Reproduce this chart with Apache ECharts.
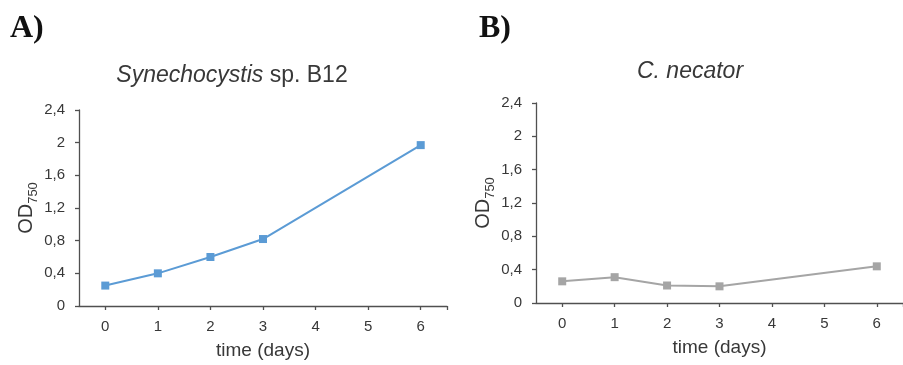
<!DOCTYPE html>
<html>
<head>
<meta charset="utf-8">
<script src="https://cdn.jsdelivr.net/npm/echarts@6/dist/echarts.min.js"></script>
<style>
  html, body { margin: 0; padding: 0; background: #fff; }
  #chart { width: 903px; height: 365px; }
</style>
</head>
<body>
<div id="chart"></div>
<script>
// Sampling days (x) and measured optical density at 750 nm
const days = [0, 1, 2, 3, 6];
const synechocystisOD = [0.25, 0.40, 0.60, 0.82, 1.97];
const necatorOD = [0.26, 0.31, 0.21, 0.20, 0.44];

// Axis ticks
const dayTicks = [0, 1, 2, 3, 4, 5, 6];
const odTickLabels = ['0', '0,4', '0,8', '1,2', '1,6', '2', '2,4'];

const FONT = '"Liberation Sans", Arial, sans-serif';
const TEXT = '#383838';
const AXIS = '#505050';

const pairs = (xs, ys) => xs.map((x, i) => [x, ys[i]]);

function xAxisFor(gridIndex) {
  return {
    type: 'value', gridIndex,
    min: -0.5, max: 6.5,
    name: 'time (days)', nameLocation: 'middle', nameGap: 35,
    nameTextStyle: { fontFamily: FONT, fontSize: 19, color: TEXT },
    axisLine: { show: true, onZero: false, lineStyle: { color: AXIS, width: 1.3 } },
    axisTick: { show: true, length: 4, customValues: dayTicks.concat([6.5]),
                lineStyle: { color: AXIS, width: 1.3 } },
    axisLabel: { customValues: dayTicks, margin: 13, fontFamily: FONT, fontSize: 15, color: TEXT },
    splitLine: { show: false }
  };
}

function yAxisFor(gridIndex) {
  return {
    type: 'value', gridIndex,
    min: 0, max: 2.4, interval: 0.4,
    name: '{od|OD}{sub|750}', nameLocation: 'middle', nameGap: 39,
    nameTextStyle: {
      color: TEXT,
      rich: {
        od: { fontFamily: FONT, fontSize: 20, lineHeight: 20, verticalAlign: 'top', color: TEXT },
        sub: { fontFamily: FONT, fontSize: 13, lineHeight: 13, verticalAlign: 'top',
               padding: [11, 0, 0, 0], color: TEXT }
      }
    },
    axisLine: { show: true, onZero: false, lineStyle: { color: AXIS, width: 1.3 } },
    axisTick: { show: true, length: 4, lineStyle: { color: AXIS, width: 1.3 } },
    axisLabel: {
      margin: 14, fontFamily: FONT, fontSize: 15, color: TEXT,
      formatter: v => odTickLabels[Math.round(v / 0.4)]
    },
    splitLine: { show: false }
  };
}

function lineSeries(idx, data, color) {
  return {
    type: 'line', xAxisIndex: idx, yAxisIndex: idx,
    data, symbol: 'rect', symbolSize: 8,
    itemStyle: { color },
    lineStyle: { color, width: 2 },
    animation: false
  };
}

const chart = echarts.init(document.getElementById('chart'), null, { renderer: 'canvas' });
chart.setOption({
  backgroundColor: '#ffffff',
  animation: false,
  grid: [
    { left: 79, top: 110, width: 368, height: 197 },
    { left: 536, top: 103, width: 372, height: 200 }
  ],
  xAxis: [xAxisFor(0), xAxisFor(1)],
  yAxis: [yAxisFor(0), yAxisFor(1)],
  series: [
    lineSeries(0, pairs(days, synechocystisOD), '#5b9bd5'),
    lineSeries(1, pairs(days, necatorOD), '#a5a5a5')
  ],
  graphic: [
    { type: 'text', x: 10, y: 29,
      style: { text: 'A)', fontFamily: '"Liberation Serif", "Times New Roman", serif',
               fontWeight: 'bold', fontSize: 32, fill: '#111', align: 'left', verticalAlign: 'middle' } },
    { type: 'text', x: 479, y: 29,
      style: { text: 'B)', fontFamily: '"Liberation Serif", "Times New Roman", serif',
               fontWeight: 'bold', fontSize: 32, fill: '#111', align: 'left', verticalAlign: 'middle' } },
    { type: 'text', x: 232, y: 76,
      style: { text: '{i|Synechocystis} sp. B12', fontFamily: FONT, fontSize: 23, fill: TEXT,
               align: 'center', verticalAlign: 'middle',
               rich: { i: { fontFamily: FONT, fontSize: 23, fontStyle: 'italic', fill: TEXT, color: TEXT } } } },
    { type: 'text', x: 690, y: 72,
      style: { text: 'C. necator', fontFamily: FONT, fontSize: 23, fontStyle: 'italic', fill: TEXT,
               align: 'center', verticalAlign: 'middle' } }
  ]
});
</script>
</body>
</html>
